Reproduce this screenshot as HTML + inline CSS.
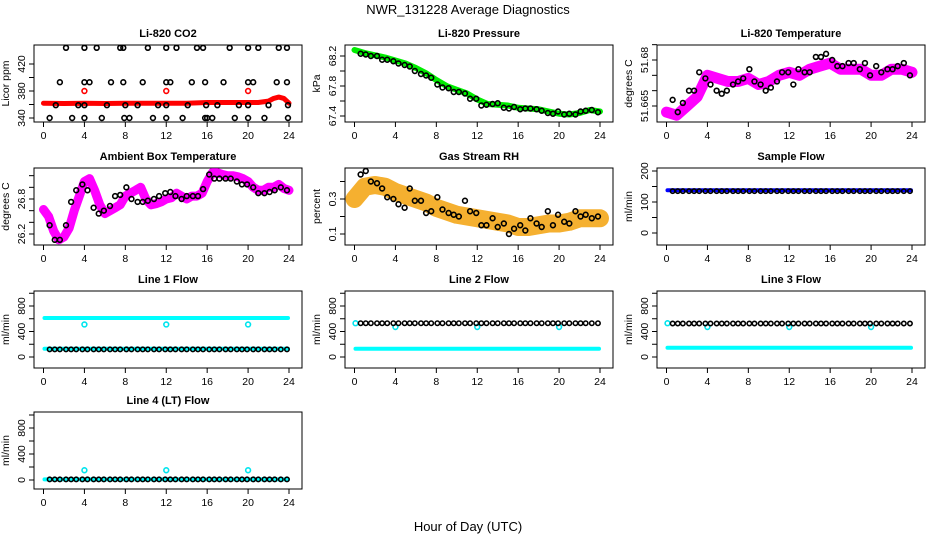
<!DOCTYPE html>
<html><head><meta charset="utf-8">
<style>
html,body{margin:0;padding:0;background:#fff;}
svg{display:block;font-family:"Liberation Sans",sans-serif;}
</style></head>
<body>
<svg id="chart" width="936" height="540" viewBox="0 0 936 540" xmlns="http://www.w3.org/2000/svg">
<rect x="0" y="0" width="936" height="540" fill="#fff"/>
<text x="468" y="14" font-size="13" text-anchor="middle">NWR_131228  Average Diagnostics</text>
<text x="468" y="531" font-size="13" text-anchor="middle">Hour of Day (UTC)</text>
<g id="panels"></g>
</svg>
<script>
// ---- data ----
const blackT = [0.6,1.1,1.6,2.2,2.7,3.2,3.8,4.3,4.9,5.4,5.9,6.5,7.0,7.5,8.1,8.6,9.2,9.7,10.2,10.8,11.3,11.9,12.4,12.9,13.5,14.0,14.6,15.1,15.6,16.2,16.7,17.2,17.8,18.3,18.9,19.4,19.9,20.5,21.0,21.6,22.1,22.6,23.2,23.8];
const hourlyT = [0,1,2,3,4,5,6,7,8,9,10,11,12,13,14,15,16,17,18,19,20,21,22,23,24];
const halfT = [0,0.5,1,1.5,2,2.5,3,3.5,4,4.5,5,5.5,6,6.5,7,7.5,8,8.5,9,9.5,10,10.5,11,11.5,12,12.5,13,13.5,14,14.5,15,15.5,16,16.5,17,17.5,18,18.5,19,19.5,20,20.5,21,21.5,22,22.5,23,23.5,24];
const outlierT = [4,12,20];
const flowBandT = [0.1,23.9];

const co2T = [2.2,4,5.2,7.5,7.8,10.2,12,13,15,15.6,18.2,20,21,23,23.8, 1.6,4,4.5,6.6,7.8,9.7,12,12.4,14.5,15.8,17.6,20,20.5,22.8,23.8, 1.2,3.4,4,6.2,8,9.2,11.2,12,14.1,15.9,17,19.1,20,22,23.9, 0.6,2.8,4,5.7,7.9,8.4,10.7,12,13.6,15.8,16,16.5,18.7,20,21.6,23.9];
const co2V = [444,444,444,444,444,444,444,444,444,444,444,444,444,444,444, 393,393,393,393,393,393,393,393,393,393,393,393,393,393,393, 359,359,359,359,359,359,359,359,359,359,359,359,359,359,359, 340,340,340,340,340,340,340,340,340,340,340,340,340,340,340,340];
const co2BandT = [0,2,4,6,8,10,12,14,16,18,20,21,22,22.5,23,23.5,24];
const co2BandV = [362,361.5,362,361.5,362,362,362,362,363,363,363,363,365,369,371,369,362];
const co2RedOutV = [380,380,380];

const presBandV = [68.28,68.24,68.21,68.18,68.14,68.10,68.04,67.97,67.88,67.80,67.75,67.70,67.62,67.56,67.55,67.54,67.51,67.50,67.49,67.46,67.43,67.42,67.44,67.48,67.46];
const presBlackV = [68.23,68.22,68.20,68.20,68.15,68.15,68.13,68.10,68.08,68.06,68.00,67.96,67.94,67.91,67.82,67.78,67.77,67.72,67.72,67.70,67.63,67.63,67.54,67.55,67.56,67.57,67.51,67.50,67.52,67.49,67.50,67.50,67.49,67.47,67.44,67.43,67.46,67.42,67.43,67.42,67.46,67.47,67.48,67.45];

const tempBandV = [51.663,51.662,51.665,51.668,51.675,51.674,51.673,51.673,51.674,51.672,51.673,51.675,51.676,51.675,51.677,51.678,51.679,51.677,51.677,51.677,51.675,51.675,51.677,51.677,51.676];
const tempBlackV = [51.667,51.663,51.666,51.670,51.670,51.676,51.674,51.672,51.670,51.669,51.670,51.672,51.673,51.674,51.677,51.673,51.672,51.670,51.671,51.673,51.676,51.676,51.672,51.677,51.676,51.676,51.681,51.681,51.682,51.680,51.678,51.678,51.679,51.679,51.677,51.679,51.675,51.678,51.676,51.677,51.677,51.678,51.679,51.675];

const ambBandV = [26.62,26.5,26.25,26.1,26.15,26.3,26.6,26.85,27.1,27.15,26.95,26.7,26.55,26.6,26.65,26.7,26.85,26.9,26.95,27.0,26.8,26.7,26.72,26.75,26.8,26.82,26.9,26.85,26.8,26.85,26.85,26.9,27.1,27.25,27.25,27.22,27.2,27.2,27.18,27.15,27.1,27.0,26.95,26.95,27.0,27.0,27.05,26.98,26.95];
const ambBlackV = [26.35,26.1,26.1,26.35,26.75,26.95,27.05,26.95,26.65,26.55,26.6,26.68,26.85,26.87,27.0,26.8,26.75,26.75,26.77,26.8,26.85,26.9,26.92,26.85,26.8,26.85,26.85,26.85,26.97,27.22,27.15,27.15,27.15,27.15,27.1,27.05,27.05,27.0,26.9,26.9,26.92,26.95,27.0,26.95];

const rhBandV = [0.3,0.37,0.38,0.37,0.34,0.32,0.3,0.28,0.25,0.23,0.21,0.2,0.19,0.18,0.17,0.16,0.14,0.14,0.15,0.16,0.16,0.17,0.19,0.19,0.19];
const rhBlackV = [0.44,0.46,0.4,0.39,0.36,0.31,0.3,0.27,0.25,0.36,0.29,0.29,0.22,0.23,0.31,0.24,0.22,0.21,0.2,0.29,0.23,0.22,0.15,0.15,0.19,0.14,0.16,0.1,0.13,0.15,0.12,0.19,0.16,0.14,0.23,0.15,0.21,0.17,0.16,0.23,0.2,0.21,0.19,0.2];

const sampleBandV = [138,138];
const sampleBlackV = [135,135,135,135,135,135,135,135,135,135,135,135,135,135,135,135,135,135,135,135,135,135,135,135,135,135,135,135,135,135,135,135,135,135,135,135,135,135,135,135,135,135,135,135];

const line1HighV = [612,612];
const line1LowV = [130,130];
const line1OutV = [510,510,510];
const line1BlackV = [120,120,120,120,120,120,120,120,120,120,120,120,120,120,120,120,120,120,120,120,120,120,120,120,120,120,120,120,120,120,120,120,120,120,120,120,120,120,120,120,120,120,120,120];

const line2BandV = [130,130];
const line2OutV = [470,470,470];
const line2BlackV = [530,530,530,530,530,530,530,530,530,530,530,530,530,530,530,530,530,530,530,530,530,530,530,530,530,530,530,530,530,530,530,530,530,530,530,530,530,530,530,530,530,530,530,530];

const line3BandV = [145,145];
const line3OutV = [470,470,470];
const line3BlackV = [525,525,525,525,525,525,525,525,525,525,525,525,525,525,525,525,525,525,525,525,525,525,525,525,525,525,525,525,525,525,525,525,525,525,525,525,525,525,525,525,525,525,525,525];

const line4BandV = [10,10];
const line4OutV = [150,150,150];
const line4BlackV = [10,10,10,10,10,10,10,10,10,10,10,10,10,10,10,10,10,10,10,10,10,10,10,10,10,10,10,10,10,10,10,10,10,10,10,10,10,10,10,10,10,10,10,10];

const xTicks = [0,4,8,12,16,20,24];

// ---- layout ----
const NS = "http://www.w3.org/2000/svg";
const root = document.getElementById('panels');
const colL = [34,345,657];
const rowT = [45,168,291,412];
const BW = 268, BH = 77;

function mk(tag, attrs, parent){
  const e = document.createElementNS(NS, tag);
  for (const k in attrs) e.setAttribute(k, attrs[k]);
  parent.appendChild(e);
  return e;
}

function makePanel(col,row,name,title,ylab,v1,r1,v2,r2,ticks,labels){
  const L = colL[col], T = rowT[row];
  const g = mk('g',{},root);
  
  
  const sx = h => L + 9.5 + h*(245.5/24);
  const sy = v => T + r1 + (v - v1)*(r2 - r1)/(v2 - v1);
  const box = mk('rect',{x:L,y:T,width:BW,height:BH,fill:'none',stroke:'#000','stroke-width':1},g);
  
  
  const tt = mk('text',{x:L+BW/2,y:T-8,'font-size':11,'font-weight':'bold','text-anchor':'middle'},g);
  
  
  tt.textContent = title;
  const xa = mk('g',{},g);
  
  
  mk('line',{x1:sx(0),x2:sx(24),y1:T+BH,y2:T+BH,stroke:'#000'},xa);
  xTicks.forEach(t=>{
    mk('line',{x1:sx(t),x2:sx(t),y1:T+BH,y2:T+BH+5,stroke:'#000'},xa);
    const lt = mk('text',{x:sx(t),y:T+BH+17,'font-size':10.5,'text-anchor':'middle'},xa);
    
    
    lt.textContent = t;
  });
  const ya = mk('g',{},g);
  
  
  ticks.forEach(t=>{
    const y = sy(t);
    if (y < T-1 || y > T+BH+1) return;
    mk('line',{x1:L-5,x2:L,y1:y,y2:y,stroke:'#000'},ya);
  });
  labels.forEach(t=>{
    const y = sy(t);
    const lt = mk('text',{x:L-9,y:y,'font-size':10.5,'text-anchor':'middle',transform:`rotate(-90 ${L-9} ${y})`},ya);
    
    
    lt.textContent = t;
  });
  const yl = mk('text',{x:L-25,y:T+BH/2,'font-size':10.5,'text-anchor':'middle',transform:`rotate(-90 ${L-25} ${T+BH/2})`},g);
  
  
  yl.textContent = ylab;
  return {g,sx,sy};
}

function band(p, ts, vs, color, w, name){
  const d = ts.map((t,i)=>(i?'L':'M')+p.sx(t).toFixed(1)+' '+p.sy(vs[i]).toFixed(1)).join(' ');
  const e = mk('path',{d:d,fill:'none',stroke:color,'stroke-width':w,'stroke-linecap':'round','stroke-linejoin':'round'},p.g);
  
  
}
function pts(p, ts, vs, color, name, r){
  const grp = mk('g',{},p.g);
  
  
  ts.forEach((t,i)=>{
    mk('circle',{cx:p.sx(t),cy:p.sy(vs[i]),r:r||2.4,fill:'none',stroke:color,'stroke-width':1.6},grp);
  });
}

let p = makePanel(0,0,'panel-co2','Li-820 CO2','Licor ppm',340,73,420,19,[340,360,380,400,420],[340,380,420]);
band(p, co2BandT, co2BandV, '#ff0000', 5, 'co2-red-series');
pts(p, outlierT, co2RedOutV, '#ff0000', 'co2-red-outliers');
pts(p, co2T, co2V, '#000', 'co2-black-points');

p = makePanel(1,0,'panel-pressure','Li-820 Pressure','kPa',67.4,71,68.2,11,[67.4,67.6,67.8,68.0,68.2],[67.4,67.8,68.2]);
band(p, hourlyT, presBandV, '#00ee00', 6, 'pressure-green-series');
pts(p, blackT, presBlackV, '#000', 'pressure-black-points');

p = makePanel(2,0,'panel-li820-temp','Li-820 Temperature','degrees C',51.665,61,51.680,15,[51.665,51.670,51.675,51.680,51.685],[51.665,51.680]);
band(p, hourlyT, tempBandV, '#ff00ff', 11, 'temp-magenta-series');
pts(p, blackT, tempBlackV, '#000', 'temp-black-points');

p = makePanel(0,1,'panel-ambient','Ambient Box Temperature','degrees C',26.2,66,26.8,31,[26.2,26.4,26.6,26.8,27.0,27.2],[26.2,26.8]);
band(p, halfT, ambBandV, '#ff00ff', 9, 'ambient-magenta-series');
pts(p, blackT, ambBlackV, '#000', 'ambient-black-points');

p = makePanel(1,1,'panel-rh','Gas Stream RH','percent',0.1,66,0.3,31,[0.1,0.2,0.3,0.4],[0.1,0.3]);
band(p, hourlyT, rhBandV, '#f5b030', 18, 'rh-orange-series');
pts(p, blackT, rhBlackV, '#000', 'rh-black-points');

p = makePanel(2,1,'panel-sample-flow','Sample Flow','ml/min',0,65,200,3,[0,50,100,150,200],[0,100,200]);
band(p, flowBandT, sampleBandV, '#0000ff', 4, 'sample-blue-series');
pts(p, blackT, sampleBlackV, '#000', 'sample-black-points', 2.2);

const fTicks=[0,200,400,600,800,1000], fLabels=[0,400,800];
p = makePanel(0,2,'panel-line1','Line 1 Flow','ml/min',0,66,800,15,fTicks,fLabels);
band(p, flowBandT, line1HighV, '#00ffff', 4, 'line1-cyan-high');
band(p, flowBandT, line1LowV, '#00ffff', 4, 'line1-cyan-low');
pts(p, outlierT, line1OutV, '#00e5ee', 'line1-cyan-outliers');
pts(p, blackT, line1BlackV, '#000', 'line1-black-points', 2.2);

p = makePanel(1,2,'panel-line2','Line 2 Flow','ml/min',0,66,800,15,fTicks,fLabels);
band(p, flowBandT, line2BandV, '#00ffff', 4, 'line2-cyan-series');
pts(p, outlierT, line2OutV, '#00e5ee', 'line2-cyan-outliers');
pts(p, [0.1], [530], '#00e5ee', 'line2-cyan-start');
pts(p, blackT, line2BlackV, '#000', 'line2-black-points', 2.2);

p = makePanel(2,2,'panel-line3','Line 3 Flow','ml/min',0,66,800,15,fTicks,fLabels);
band(p, flowBandT, line3BandV, '#00ffff', 4, 'line3-cyan-series');
pts(p, outlierT, line3OutV, '#00e5ee', 'line3-cyan-outliers');
pts(p, [0.1], [530], '#00e5ee', 'line3-cyan-start');
pts(p, blackT, line3BlackV, '#000', 'line3-black-points', 2.2);

p = makePanel(0,3,'panel-line4','Line 4 (LT) Flow','ml/min',0,68,800,16,fTicks,fLabels);
band(p, flowBandT, line4BandV, '#00ffff', 4, 'line4-cyan-series');
pts(p, outlierT, line4OutV, '#00e5ee', 'line4-cyan-outliers');
pts(p, blackT, line4BlackV, '#000', 'line4-black-points', 2.2);
</script>
</body></html>
